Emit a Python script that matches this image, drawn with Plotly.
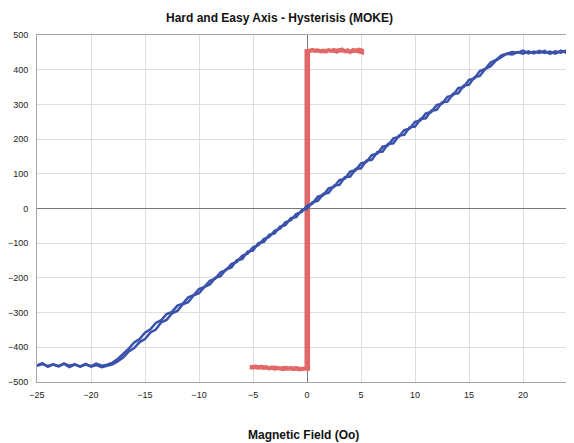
import plotly.graph_objects as go

# Hard axis (blue) - ascending branch
hard_up_x = [-25, -24.5, -24, -23.5, -23, -22.5, -22, -21.5, -21, -20.5, -20, -19.5, -19, -18.5, -18, -17.5,
             -17, -16.5, -16, -15.5, -15, -14.5, -14, -13.5, -13, -12.5, -12, -11.5, -11, -10.5, -10, -9.5,
             -9, -8.5, -8, -7.5, -7, -6.5, -6, -5.5, -5, -4.5, -4, -3.5, -3, -2.5, -2, -1.5, -1, -0.5, 0,
             0.5, 1, 1.5, 2, 2.5, 3, 3.5, 4, 4.5, 5, 5.5, 6, 6.5, 7, 7.5, 8, 8.5, 9, 9.5, 10, 10.5, 11, 11.5,
             12, 12.5, 13, 13.5, 14, 14.5, 15, 15.5, 16, 16.5, 17, 17.5, 18, 18.5, 19, 19.5, 20, 20.5, 21,
             21.5, 22, 22.5, 23, 23.5, 24, 24.5, 25]
hard_up_y = [-452, -446, -456, -449, -454, -447, -457, -450, -455, -448, -456, -451, -457, -452, -449, -440,
             -429, -412, -402, -385, -376, -357, -349, -328, -321, -302, -295, -276, -270, -250, -244, -226,
             -219, -200, -195, -175, -170, -149, -146, -124, -121, -100, -96, -76, -72, -52, -48, -28, -25, -5, -1,
             18, 22, 42, 45, 66, 68, 90, 92, 114, 116, 138, 140, 162, 164, 186, 188, 210, 212, 234, 236, 258, 260, 282,
             284, 306, 308, 330, 332, 354, 357, 378, 382, 402, 410, 427, 437, 446, 444, 451, 446, 453, 447,
             454, 448, 452, 446, 455, 449, 452, 448]

# Hard axis (blue) - descending branch
hard_down_x = [25, 24.5, 24, 23.5, 23, 22.5, 22, 21.5, 21, 20.5, 20, 19.5, 19, 18.5, 18, 17.5, 17, 16.5, 16,
               15.5, 15, 14.5, 14, 13.5, 13, 12.5, 12, 11.5, 11, 10.5, 10, 9.5, 9, 8.5, 8, 7.5, 7, 6.5, 6, 5.5,
               5, 4.5, 4, 3.5, 3, 2.5, 2, 1.5, 1, 0.5, 0, -0.5, -1, -1.5, -2, -2.5, -3, -3.5, -4, -4.5, -5,
               -5.5, -6, -6.5, -7, -7.5, -8, -8.5, -9, -9.5, -10, -10.5, -11, -11.5, -12, -12.5, -13, -13.5,
               -14, -14.5, -15, -15.5, -16, -16.5, -17, -17.5, -18, -18.5, -19, -19.5, -20, -20.5, -21, -21.5,
               -22, -22.5, -23, -23.5, -24, -24.5, -25]
hard_down_y = [451, 447, 455, 449, 453, 446, 454, 448, 452, 447, 455, 449, 451, 447, 441, 428, 421, 402, 396,
               375, 371, 350, 347, 326, 322, 302, 298, 278, 274, 254, 250, 230, 226, 206, 202, 182, 178, 158, 154, 134,
               130, 110, 106, 86, 82, 62, 58, 38, 34, 14, 8, -10, -16, -34, -40, -58, -64, -82, -88, -106, -112,
               -130, -136, -154, -160, -178, -184, -202, -208, -226, -232, -250, -256, -274, -280, -298, -304, -322,
               -330, -348, -358, -376, -386, -404, -418, -433, -444, -450, -453, -447, -454, -450, -456, -449,
               -453, -447, -455, -450, -454, -448, -453]

# Easy axis (red) - square loop
easy_x = [-5.3, -5.0, -4.75, -4.5, -4.25, -4.0, -3.75, -3.5, -3.25, -3.0, -2.75, -2.5, -2.25, -2.0, -1.75,
          -1.5, -1.25, -1.0, -0.75, -0.5, -0.25, 0.1, 0.1, 0.25, 0.5, 0.75, 1.0, 1.25, 1.5, 1.75, 2.0, 2.25,
          2.5, 2.75, 3.0, 3.25, 3.5, 3.75, 4.0, 4.25, 4.5, 4.75, 5.1, 5.1, 4.75, 4.5, 4.0, 3.5, 3.0, 2.5,
          2.0, 1.5, 1.0, 0.5, -0.05, -0.05, -0.5, -1.0, -1.5, -2.0, -2.5, -3.0, -3.5, -4.0, -4.5, -5.0, -5.3]
easy_y = [-457, -459, -455, -458, -456, -460, -457, -461, -458, -462, -459, -460, -463, -461, -462,
          -460, -463, -461, -464, -462, -463, -462, 452, 455, 457, 454, 456, 453, 455, 452, 456, 454,
          457, 452, 455, 458, 453, 456, 451, 457, 454, 458, 455, 450, 453, 456, 452, 455, 457, 454,
          456, 453, 455, 456, 454, -461, -463, -460, -462, -459, -461, -458, -460, -457, -459, -456, -458]

x_ticks = [-25, -20, -15, -10, -5, 0, 5, 10, 15, 20, 25]
y_ticks = [-500, -400, -300, -200, -100, 0, 100, 200, 300, 400, 500]

BLUE = "rgb(58,82,170)"
RED = "rgb(226,104,104)"

fig = go.Figure()
fig.add_trace(go.Scatter(x=easy_x, y=easy_y, mode="lines",
                         line=dict(color=RED, width=4), showlegend=False))
fig.add_trace(go.Scatter(x=hard_up_x, y=hard_up_y, mode="lines",
                         line=dict(color=BLUE, width=2.5), showlegend=False))
fig.add_trace(go.Scatter(x=hard_down_x, y=hard_down_y, mode="lines",
                         line=dict(color=BLUE, width=2.5), showlegend=False))

axis_font = dict(family="Liberation Sans, Arial, sans-serif", size=9, color="#222")
# page body has an 8px margin; sizes compensate so the plot area lands where the reference has it
fig.update_layout(
    width=566, height=435,
    margin=dict(l=29, r=0, t=27, b=61),
    paper_bgcolor="white", plot_bgcolor="white",
    font=dict(family="Liberation Sans, Arial, sans-serif"),
    xaxis=dict(range=[-25, 24.72], tickvals=x_ticks, ticks="", tickfont=axis_font,
               showgrid=True, gridcolor="rgb(222,222,222)", gridwidth=1,
               zeroline=True, zerolinecolor="rgb(120,120,120)", zerolinewidth=1,
               showline=True, linecolor="rgb(165,165,165)", linewidth=1, mirror=True,
               ticklabelstandoff=4),
    yaxis=dict(range=[-500, 500], tickvals=y_ticks, ticks="", tickfont=axis_font,
               showgrid=True, gridcolor="rgb(222,222,222)", gridwidth=1,
               zeroline=True, zerolinecolor="rgb(120,120,120)", zerolinewidth=1,
               showline=True, linecolor="rgb(165,165,165)", linewidth=1, mirror=True,
               ticklabelstandoff=6),
    annotations=[
        dict(text="<b>Hard and Easy Axis - Hysterisis (MOKE)</b>", xref="paper", yref="paper",
             x=(279 - 37) / 537, y=1, yshift=17, showarrow=False,
             font=dict(size=12, color="#111"), xanchor="center", yanchor="middle"),
        dict(text="<b>Magnetic Field (Oo)</b>", xref="paper", yref="paper",
             x=(303 - 37) / 537, y=0, yshift=-53, showarrow=False,
             font=dict(size=12, color="#111"), xanchor="center", yanchor="middle"),
    ],
)

fig.write_html("out.html")
